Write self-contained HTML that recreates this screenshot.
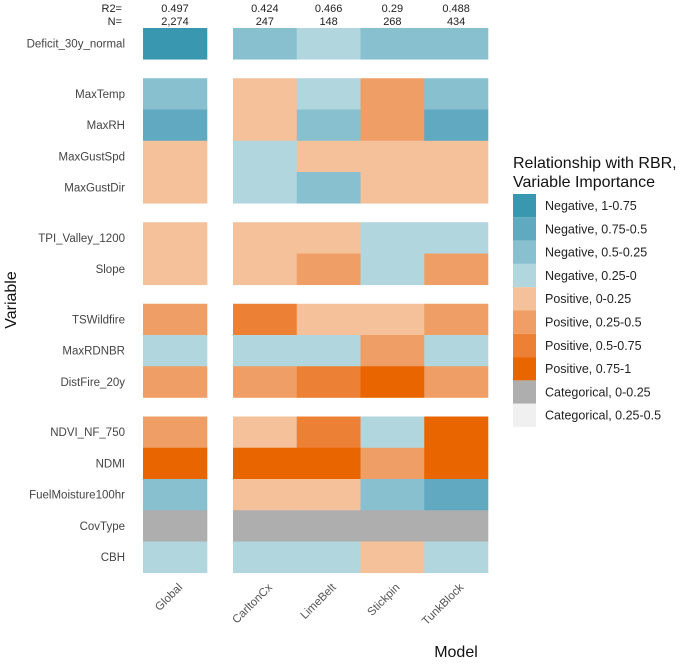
<!DOCTYPE html>
<html><head><meta charset="utf-8"><style>
body{margin:0;background:#fff;font-family:"Liberation Sans",Arial,sans-serif;}
svg text{font-family:"Liberation Sans",Arial,sans-serif;}
</style></head><body>
<svg width="685" height="660" xmlns="http://www.w3.org/2000/svg">
<g id="cells"></g>
<g id="labels"></g>
<g id="legend"></g>
<text x="12" y="300" transform="rotate(-90 12 300)" text-anchor="middle" dominant-baseline="middle" font-size="16" fill="#111">Variable</text>
<text x="456" y="657" text-anchor="middle" font-size="16" fill="#111">Model</text>
</svg>
<script>
const models=["Global","CarltonCx","LimeBelt","Stickpin","TunkBlock"];
const r2=["0.497","0.424","0.466","0.29","0.488"];
const nVals=["2,274","247","148","268","434"];
const variables=["Deficit_30y_normal","MaxTemp","MaxRH","MaxGustSpd","MaxGustDir","TPI_Valley_1200","Slope","TSWildfire","MaxRDNBR","DistFire_20y","NDVI_NF_750","NDMI","FuelMoisture100hr","CovType","CBH"];
const groups=[0,1,1,1,1,2,2,3,3,3,4,4,4,4,4];
const cats=[
["N1","N3","N4","N3","N3"],
["N3","P1","N4","P2","N3"],
["N2","P1","N3","P2","N2"],
["P1","N4","P1","P1","P1"],
["P1","N4","N3","P1","P1"],
["P1","P1","P1","N4","N4"],
["P1","P1","P2","N4","P2"],
["P2","P3","P1","P1","P2"],
["N4","N4","N4","P2","N4"],
["P2","P2","P3","P4","P2"],
["P2","P1","P3","N4","P4"],
["P4","P4","P4","P2","P4"],
["N3","P1","P1","N3","N2"],
["C1","C1","C1","C1","C1"],
["N4","N4","N4","P1","N4"]];
const legendKeys=["N1","N2","N3","N4","P1","P2","P3","P4","C1","C2"];
const legendLabels=["Negative, 1-0.75","Negative, 0.75-0.5","Negative, 0.5-0.25","Negative, 0.25-0","Positive, 0-0.25","Positive, 0.25-0.5","Positive, 0.5-0.75","Positive, 0.75-1","Categorical, 0-0.25","Categorical, 0.25-0.5"];
const colors={N1:"#3a97b0",N2:"#60a9c0",N3:"#88c0cf",N4:"#b1d6de",P1:"#f4c19b",P2:"#ef9f66",P3:"#ec8034",P4:"#e86500",C1:"#aeaeae",C2:"#f0f0f0"};
const NS="http://www.w3.org/2000/svg";
const RH=31.25, GAP=19, TOP=28;
function yPos(i){return TOP+i*RH+groups[i]*GAP;}
function xPos(j){return j===0?143:233+(j-1)*63.75;}
function colW(j){return j===0?64:63.75;}
function mk(tag,attrs,parent,txt){const e=document.createElementNS(NS,tag);for(const k in attrs)e.setAttribute(k,attrs[k]);if(txt!==undefined)e.textContent=txt;parent.appendChild(e);return e;}
const cg=document.getElementById('cells'), lg=document.getElementById('labels'), leg=document.getElementById('legend');
variables.forEach((v,i)=>{
  models.forEach((m,j)=>{
    const r=mk('rect',{x:xPos(j),y:yPos(i),width:colW(j)+0.3,height:RH+0.3,fill:colors[cats[i][j]]},cg);
    
    
  });
  const t=mk('text',{x:125,y:yPos(i)+RH/2+4,'text-anchor':'end','font-size':11.5,fill:'#444'},lg,v);
  
  
});
const a=mk('text',{x:122,y:12,'text-anchor':'end','font-size':11,fill:'#222'},lg,"R2=");


const b=mk('text',{x:122,y:25,'text-anchor':'end','font-size':11,fill:'#222'},lg,"N=");


models.forEach((m,j)=>{
  const cx=xPos(j)+colW(j)/2;
  const t1=mk('text',{x:cx,y:12,'text-anchor':'middle','font-size':11,fill:'#222'},lg,r2[j]);
  
  
  const t2=mk('text',{x:cx,y:25,'text-anchor':'middle','font-size':11,fill:'#222'},lg,nVals[j]);
  
  
  const ax=cx+8, ay=588;
  const t3=mk('text',{x:ax,y:ay,'text-anchor':'end','font-size':11.5,fill:'#555',transform:`rotate(-45 ${ax} ${ay})`},lg,m);
  
  
});
const lt1=mk('text',{x:513,y:168,'font-size':16,fill:'#111'},leg,"Relationship with RBR,");


const lt2=mk('text',{x:513,y:187,'font-size':16,fill:'#111'},leg," Variable Importance");


legendKeys.forEach((k,i)=>{
  const y=194+i*23.3;
  const r=mk('rect',{x:513,y:y,width:23,height:23.3,fill:colors[k]},leg);
  
  
  const t=mk('text',{x:545,y:y+16,'font-size':12.5,fill:'#222'},leg,legendLabels[i]);
  
  
});
</script>
</body></html>
